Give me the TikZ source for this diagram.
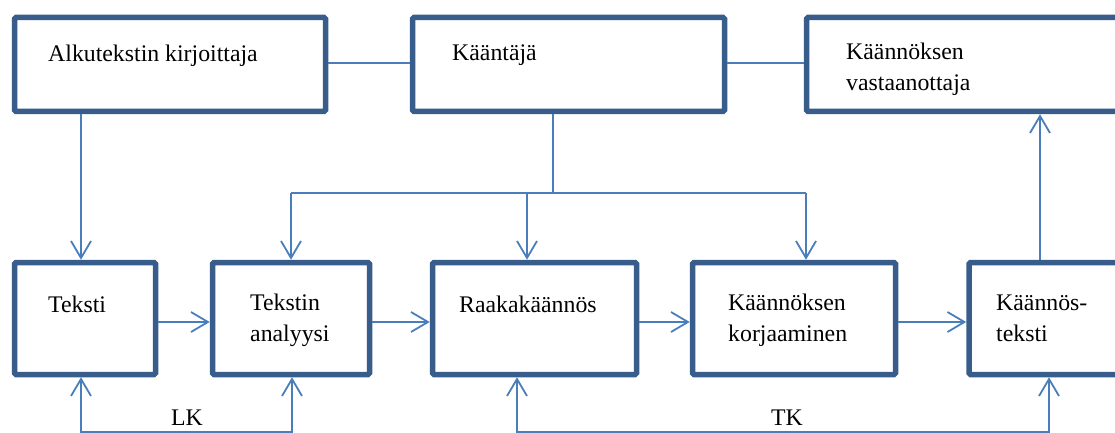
\documentclass[tikz,border=0pt]{standalone}
\usepackage{fontspec}
\setmainfont{Liberation Serif}
\usetikzlibrary{arrows.meta}
\definecolor{boxblue}{HTML}{385D8A}
\definecolor{lineblue}{HTML}{4A7EBB}
\tikzset{
  box/.style={draw=boxblue, line width=5.5pt, rounded corners=1.5pt, fill=white, inner sep=0pt},
  conn/.style={draw=lineblue, line width=1.8pt},
  tip/.tip={Straight Barb[length=17pt,width=20pt,line width=1.8pt]},
  arr/.style={conn, -tip},
  arrs/.style={conn, tip-tip},
  txt/.style={inner sep=0pt, anchor=base west, align=left, font=\fontsize{23.8}{31}\selectfont},
  lbl/.style={inner sep=0pt, anchor=base, font=\fontsize{23.8}{31}\selectfont}
}
\begin{document}
\begin{tikzpicture}[x=1pt, y=-1pt]
\useasboundingbox (0,0) rectangle (1115,433);
\clip (0,0) rectangle (1115,433);
% top boxes
\node[box, minimum width=311pt, minimum height=94pt] (a1) at (170,64.5) {};
\node[box, minimum width=312pt, minimum height=94pt] (a2) at (568.5,64.5) {};
\node[box, minimum width=334pt, minimum height=94pt] (a3) at (973.5,64.5) {};
% bottom boxes
\node[box, minimum width=141pt, minimum height=112pt] (b1) at (85,318.5) {};
\node[box, minimum width=157pt, minimum height=112pt] (b2) at (291,318.5) {};
\node[box, minimum width=204pt, minimum height=112pt] (b3) at (534.5,318.5) {};
\node[box, minimum width=203pt, minimum height=112pt] (b4) at (794,318.5) {};
\node[box, minimum width=171pt, minimum height=112pt] (b5) at (1054.5,318.5) {};
% texts (multi-line nodes: base = last line)
\node[txt] (t1) at (48,61.5) {Alkutekstin kirjoittaja};
\node[txt] (t2) at (452,61) {Kääntäjä};
\node[txt] (t3) at (846,91) {Käännöksen\\vastaanottaja};
\node[txt] (t4) at (48,312.5) {Teksti};
\node[txt] (t5) at (250,341) {Tekstin\\analyysi};
\node[txt] (t6) at (459,312.5) {Raakakäännös};
\node[txt] (t7) at (728,341) {Käännöksen\\korjaaminen};
\node[txt] (t8) at (996,341) {Käännös-\\teksti};
\node[lbl] (lk) at (187,425) {LK};
\node[lbl] (tk) at (787,425) {TK};
% coordinates
\coordinate (h1) at (553,193);
\coordinate (hL) at (291,193);
\coordinate (hM) at (527,193);
\coordinate (hR) at (806,193);
\coordinate (l1) at (81,432);
\coordinate (l2) at (292,432);
\coordinate (r1) at (517,432);
\coordinate (r2) at (1049,432);
% top horizontal links
\draw[conn] (a1.east |- 0,63) -- (a2.west |- 0,63);
\draw[conn] (a2.east |- 0,63) -- (a3.west |- 0,63);
% author to text
\draw[arr] (a1.south -| l1) -- (b1.north -| l1);
% translator tree
\draw[conn] (a2.south -| h1) -- (h1);
\draw[conn] (hL) -- (hR);
\draw[arr] (hL) -- (b2.north -| hL);
\draw[arr] (hM) -- (b3.north -| hM);
\draw[arr] (hR) -- (b4.north -| hR);
% horizontal flow
\draw[arr] (b1.east |- 0,322) -- (b2.west |- 0,322);
\draw[arr] (b2.east |- 0,322) -- (b3.west |- 0,322);
\draw[arr] (b3.east |- 0,322) -- (b4.west |- 0,322);
\draw[arr] (b4.east |- 0,322) -- (b5.west |- 0,322);
% to receiver
\draw[arr] (b5.north -| 1040,0) -- (a3.south -| 1040,0);
% loops
\draw[arrs] (b1.south -| l1) -- (l1) -- (l2) -- (b2.south -| l2);
\draw[arrs] (b3.south -| r1) -- (r1) -- (r2) -- (b5.south -| r2);
\end{tikzpicture}
\end{document}
